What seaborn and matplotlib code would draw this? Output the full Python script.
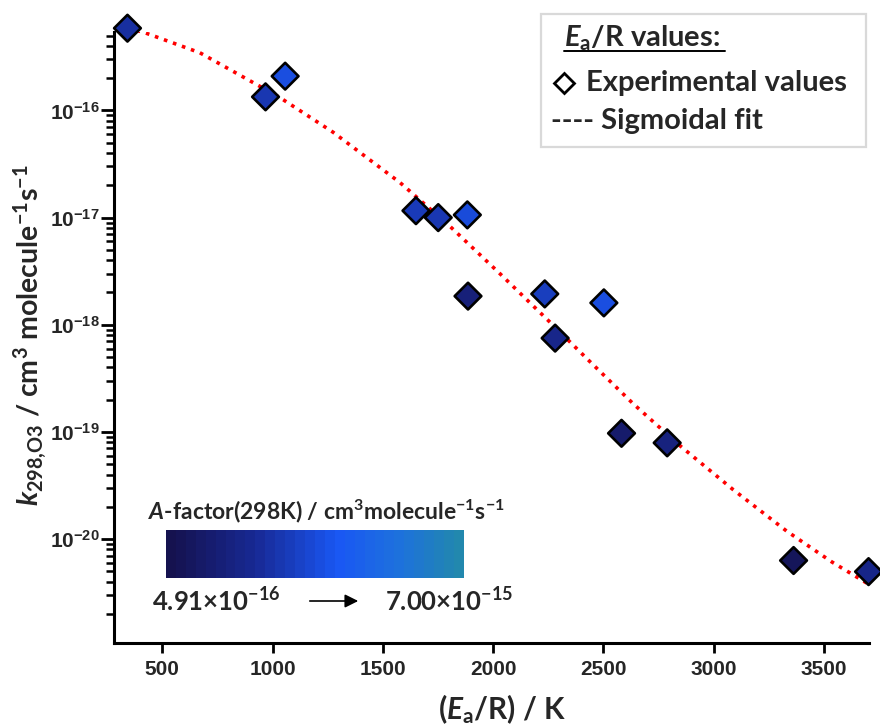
import numpy as np
import pandas as pd
import seaborn as sns
import matplotlib.pyplot as plt
from matplotlib.colors import LinearSegmentedColormap
from matplotlib.lines import Line2D
from matplotlib.patches import Rectangle
from matplotlib.ticker import FixedLocator, FuncFormatter, NullFormatter

# experimental points
ea_r = [342, 968, 1057, 1650, 1751, 1883, 1886, 2234, 2502, 2281, 2582, 2789, 3362, 3702]
k298 = [5.86e-16, 1.34e-16, 2.09e-16, 1.16e-17, 1.0e-17, 1.06e-17, 1.85e-18,
        1.94e-18, 1.6e-18, 7.5e-19, 9.7e-20, 7.9e-20, 6.3e-21, 4.96e-21]
a_factor = [2.64e-15, 2.96e-15, 3.88e-15, 3.09e-15, 2.96e-15, 3.75e-15, 1.66e-15,
            3.22e-15, 3.88e-15, 2.12e-15, 1.27e-15, 1.79e-15, 8.2e-16, 2.05e-15]

# sigmoidal fit curve
fit_ea_r = [342, 411, 670, 1033, 1274, 1578, 1805, 2032, 2259, 2440, 2635, 2848,
            3088, 3332, 3535, 3700]
fit_k298 = [5.86e-16, 5.41e-16, 3.46e-16, 1.32e-16, 6.27e-17, 2.12e-17, 8.26e-18,
            2.98e-18, 1.05e-18, 4.50e-19, 1.83e-19, 7.40e-20, 2.89e-20, 1.18e-20,
            6.12e-21, 3.81e-21]

a_min, a_max = 4.91e-16, 7.00e-15
x_ticks = [500, 1000, 1500, 2000, 2500, 3000, 3500]
y_ticks = [1e-20, 1e-19, 1e-18, 1e-17, 1e-16]

df = pd.DataFrame({'ea_r': ea_r, 'k298': k298, 'A': a_factor})
fit = pd.DataFrame({'ea_r': fit_ea_r, 'k298': fit_k298})

sns.set_theme(style='ticks')
plt.rcParams['font.family'] = ['Lato', 'DejaVu Sans']
plt.rcParams['font.weight'] = 'bold'
plt.rcParams['mathtext.fontset'] = 'custom'
plt.rcParams['mathtext.rm'] = 'Lato:bold'
plt.rcParams['mathtext.it'] = 'Lato:bold:italic'
plt.rcParams['mathtext.bf'] = 'Liberation Sans:bold'

cmap = LinearSegmentedColormap.from_list(
    'afac', [(0, '#15124f'), (0.3, '#182a96'), (0.58, '#1a58f4'),
             (0.8, '#1e72dc'), (1.0, '#2288ae')])

W, H = 880, 727
fig = plt.figure(figsize=(W / 100, H / 100), dpi=100)
ax = fig.add_axes([114 / W, 1 - 643 / H, 755 / W, 611 / H])


def ftext(px, py, s, **kw):
    return fig.text(px / W, 1 - py / H, s, **kw)


sns.lineplot(data=fit, x='ea_r', y='k298', color='red', linestyle=':', lw=2.6,
             ax=ax, zorder=2)
sns.scatterplot(data=df, x='ea_r', y='k298', hue='A', palette=cmap,
                hue_norm=(a_min, a_max), marker='D', s=185, edgecolor='black',
                linewidth=1.9, legend=False, ax=ax, zorder=3, clip_on=False)

ax.set_yscale('log')
ax.set_xlim(281, 3704)
ax.set_ylim(1.07e-21, 5.4e-16)
ax.set_xlabel('')
ax.set_ylabel('')

minor = [m * 10.0 ** e for e in range(-22, -15) for m in range(2, 10)]
minor = [v for v in minor if 1.07e-21 <= v <= 5.4e-16]
ax.yaxis.set_major_locator(FixedLocator(y_ticks))
ax.yaxis.set_minor_locator(FixedLocator(minor))
ax.yaxis.set_major_formatter(FuncFormatter(
    lambda v, pos: r'$\mathbf{10^{%d}}$' % round(np.log10(v))))
ax.yaxis.set_minor_formatter(NullFormatter())
ax.set_xticks(x_ticks)
ax.set_xticklabels(x_ticks, fontfamily='Liberation Sans', fontweight='bold', fontsize=15)

for s in ['top', 'right']:
    ax.spines[s].set_visible(False)
for s in ['left', 'bottom']:
    ax.spines[s].set_linewidth(2.2)
    ax.spines[s].set_color('black')
ax.tick_params(axis='x', which='major', length=7, width=2, pad=5, color='black')
ax.tick_params(axis='y', which='major', length=9.5, width=2, pad=1, labelsize=15,
               color='black')
ax.tick_params(axis='y', which='minor', length=6, width=1.8, color='black')

# axis labels
ftext(30, 335, r'$\mathit{k}_\mathrm{298{,}O3}$ / cm$^\mathrm{3}$ molecule$^\mathrm{-1}$s$^\mathrm{-1}$',
      rotation=90, ha='center', va='center', fontsize=20.5)
ftext(502, 709, r'($\mathit{E}_\mathrm{a}$/R) / K', ha='center', va='center',
      fontsize=21.5)

# colour scale
cax = fig.add_axes([166 / W, 1 - 578 / H, 298 / W, 48 / H])
cax.imshow(np.linspace(0, 1, 30)[None, :], aspect='auto', cmap=cmap)
cax.axis('off')
ftext(148, 511, r'$\mathit{A}$-factor(298K) / cm$^\mathrm{3}$molecule$^\mathrm{-1}$s$^\mathrm{-1}$',
      ha='left', va='center', fontsize=16.5)
ftext(152, 601, r'4.91$\times$10$^\mathrm{-16}$', ha='left', va='center', fontsize=18.5)
ftext(385, 601, r'7.00$\times$10$^\mathrm{-15}$', ha='left', va='center', fontsize=18.5)
ax.annotate('', xy=(361 / W, 1 - 601 / H), xytext=(307 / W, 1 - 601 / H),
            xycoords='figure fraction', textcoords='figure fraction',
            arrowprops=dict(arrowstyle='-|>', color='black', lw=1.2, mutation_scale=20))

# legend box
fig.add_artist(Rectangle((541 / W, 1 - 147 / H), 325 / W, 133 / H,
                         transform=fig.transFigure, facecolor='white',
                         edgecolor='#d9d9d9', lw=1.6, zorder=5))
ftext(564, 38, r'$\mathit{E}_\mathrm{a}$/R values:', ha='left', va='center',
      fontsize=21, zorder=6)
fig.add_artist(Line2D([564 / W, 725 / W], [1 - 51 / H] * 2, color='black', lw=1.4,
                      zorder=6))
fig.add_artist(Line2D([564 / W], [1 - 83 / H], marker='D', ms=10.5, mfc='white',
                      mec='black', mew=2, zorder=6))
ftext(586, 83, 'Experimental values', ha='left', va='center', fontsize=21, zorder=6)
ftext(551, 121, '---- Sigmoidal fit', ha='left', va='center', fontsize=21, zorder=6)

fig.savefig('out.png', dpi=100)
